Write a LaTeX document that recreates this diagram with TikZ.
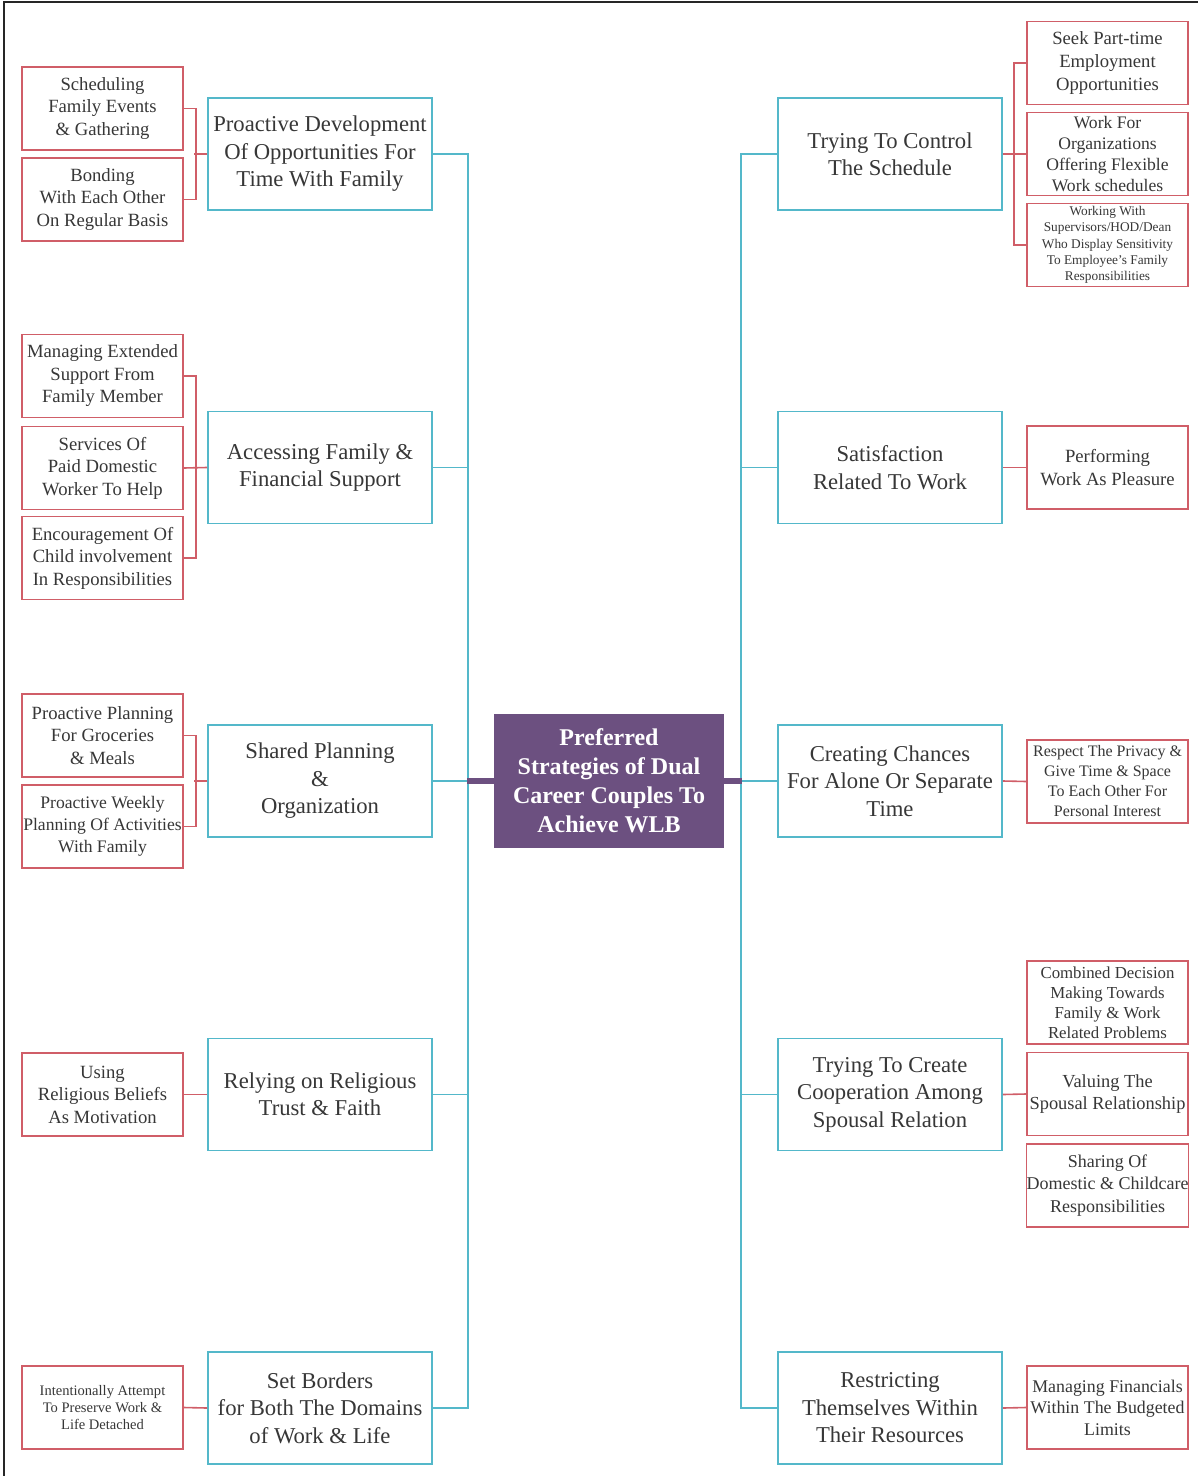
\documentclass[tikz,border=0pt]{standalone}
\usepackage{fontspec}
\setmainfont{Liberation Serif}
\definecolor{cyanc}{RGB}{84,184,202}
\definecolor{redc}{RGB}{208,94,104}
\definecolor{purp}{RGB}{108,80,128}
\definecolor{txt}{RGB}{55,55,55}
\newcommand{\fs}[2]{\fontsize{#1pt}{#2pt}\selectfont}
\begin{document}
\begin{tikzpicture}[x=0.75pt,y=-0.75pt,
  mainbox/.style={draw=cyanc, line width=1.4pt, fill=white, minimum width=168pt,
    minimum height=84pt, align=center, inner sep=0pt, text=txt, font=\fs{17}{20.6}},
  leafbox/.style={draw=redc, line width=1.2pt, fill=white, minimum width=120.75pt,
    minimum height=62.25pt, align=center, inner sep=0pt, text=txt, font=\fs{14}{16.9}},
  rootbox/.style={fill=purp, minimum width=172.5pt, minimum height=100.5pt,
    align=center, inner sep=0pt, text=white, font=\bfseries\fs{18}{21.75}},
  spine/.style={draw=cyanc, line width=1.4pt},
  twig/.style={draw=redc, line width=1.2pt},
  stub/.style={draw=purp, line width=4.5pt}]
\useasboundingbox (0,0) rectangle (1198,1476);
\draw[line width=1.5pt, black!85] (4,1476) -- (4,2) -- (1198,2);

% central topic
\node[rootbox] (C) at (609,781) {Preferred\\Strategies of Dual\\Career Couples To\\Achieve WLB};

% left strategies
\node[mainbox] (L1) at (320,154) {Proactive Development\\Of Opportunities For\\Time With Family};
\node[mainbox] (L2) at (320,467.5) {Accessing Family \&\\Financial Support};
\node[mainbox] (L3) at (320,781) {Shared Planning\\\&\\Organization};
\node[mainbox] (L4) at (320,1094.5) {Relying on Religious\\Trust \& Faith};
\node[mainbox] (L5) at (320,1408) {Set Borders\\for Both The Domains\\of Work \& Life};

% right strategies
\node[mainbox] (R1) at (890,154) {Trying To Control\\The Schedule};
\node[mainbox] (R2) at (890,467.5) {Satisfaction\\Related To Work};
\node[mainbox] (R3) at (890,781) {Creating Chances\\For Alone Or Separate\\Time};
\node[mainbox] (R4) at (890,1094.5) {Trying To Create\\Cooperation Among\\Spousal Relation};
\node[mainbox] (R5) at (890,1408) {Restricting\\Themselves Within\\Their Resources};

% left practices
\node[leafbox] (L1a) at (102.5,108.5) {Scheduling\\Family Events\\\& Gathering};
\node[leafbox] (L1b) at (102.5,199.5) {Bonding\\With Each Other\\On Regular Basis};
\node[leafbox] (L2a) at (102.5,376) {Managing Extended\\Support From\\Family Member};
\node[leafbox] (L2b) at (102.5,468) {Services Of\\Paid Domestic\\Worker To Help};
\node[leafbox] (L2c) at (102.5,558) {Encouragement Of\\Child involvement\\In Responsibilities};
\node[leafbox] (L3a) at (102.5,735.5) {Proactive Planning\\For Groceries\\\& Meals};
\node[leafbox, font=\fs{13.2}{16.5}] (L3b) at (102.5,826.5) {Proactive Weekly\\Planning Of Activities\\With Family};
\node[leafbox] (L4a) at (102.5,1094.5) {Using\\Religious Beliefs\\As Motivation};
\node[leafbox, font=\fs{10.9}{13.1}] (L5a) at (102.5,1407.5) {Intentionally Attempt\\To Preserve Work \&\\Life Detached};

% right practices
\node[leafbox] (R1a) at (1107.5,63) {Seek Part-time\\Employment\\Opportunities};
\node[leafbox, font=\fs{13.2}{15.8}] (R1b) at (1107.5,154) {Work For\\Organizations\\Offering Flexible\\Work schedules};
\node[leafbox, font=\fs{10}{12.2}] (R1c) at (1107.5,245) {Working With\\Supervisors/HOD/Dean\\Who Display Sensitivity\\To Employee's Family\\Responsibilities};
\node[leafbox] (R2a) at (1107.5,467.5) {Performing\\Work As Pleasure};
\node[leafbox, font=\fs{12}{15}] (R3a) at (1107.5,781.5) {Respect The Privacy \&\\Give Time \& Space\\To Each Other For\\Personal Interest};
\node[leafbox, font=\fs{12.6}{15}] (R4a) at (1107.5,1002.5) {Combined Decision\\Making Towards\\Family \& Work\\Related Problems};
\node[leafbox, font=\fs{13.8}{16.9}] (R4b) at (1107.5,1094) {Valuing The\\Spousal Relationship};
\node[leafbox, font=\fs{13.5}{16.9}] (R4c) at (1107.5,1185.5) {Sharing Of\\Domestic \& Childcare\\Responsibilities};
\node[leafbox, font=\fs{13.4}{16.1}] (R5a) at (1107.5,1407.5) {Managing Financials\\Within The Budgeted\\Limits};

% left spine
\draw[spine] (L1.east) -- ++(35,0) |- (L5.east);
\draw[spine] (L2.east) -- ++(35,0);
\draw[spine] (L3.east) -- ++(35,0);
\draw[spine] (L4.east) -- ++(35,0);
% right spine
\draw[spine] (R1.west) -- ++(-36,0) |- (R5.west);
\draw[spine] (R2.west) -- ++(-36,0);
\draw[spine] (R3.west) -- ++(-36,0);
\draw[spine] (R4.west) -- ++(-36,0);
% root stubs
\draw[stub] (C.west) -- ++(-27,0);
\draw[stub] (C.east) -- ++(18,0);

% left twigs
\draw[twig] (L1a.east) -- ++(12,0) |- (L1b.east);
\draw[twig] (L1.west) -- ++(-13,0);
\draw[twig] (L2a.east) -- ++(12,0) |- (L2c.east);
\draw[twig] (L2b.east) -- (L2.west);
\draw[twig] (L3a.east) -- ++(12,0) |- (L3b.east);
\draw[twig] (L3.west) -- ++(-13,0);
\draw[twig] (L4a.east) -- (L4.west);
\draw[twig] (L5a.east) -- (L5.west);
% right twigs
\draw[twig] (R1a.west) -- ++(-12,0) |- (R1c.west);
\draw[twig] (R1.east) -- (R1b.west);
\draw[twig] (R2.east) -- (R2a.west);
\draw[twig] (R3.east) -- (R3a.west);
\draw[twig] (R4.east) -- (R4b.west);
\draw[twig] (R5.east) -- (R5a.west);
\end{tikzpicture}
\end{document}
